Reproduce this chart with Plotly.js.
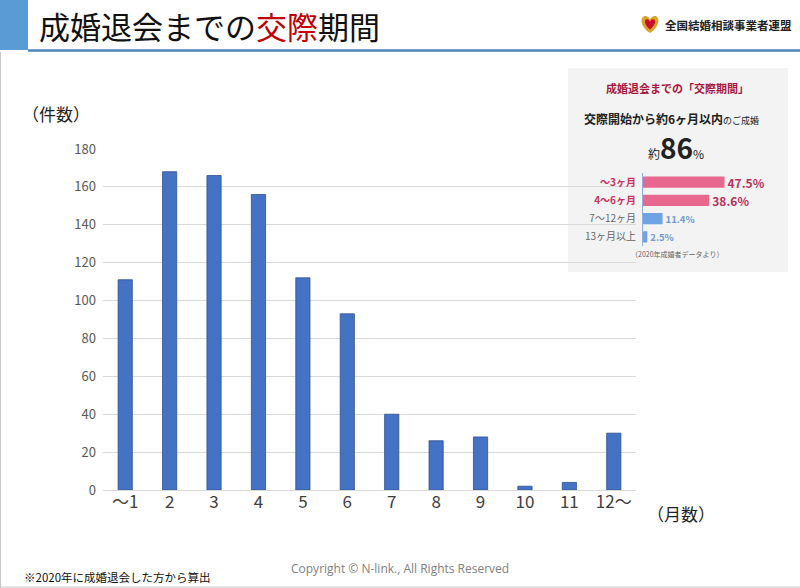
<!DOCTYPE html>
<html><head><meta charset="utf-8">
<script src="https://cdn.plot.ly/plotly-3.0.1.min.js"></script>
<style>html,body{margin:0;padding:0;background:#fff}#c{width:800px;height:588px}</style>
</head><body><div id="c"></div>
<script>
// ---- data ----
const months = ['〜1','2','3','4','5','6','7','8','9','10','11','12〜'];
const counts = [111,168,166,156,112,93,40,26,28,2,4,30];
const yTicks = [0,20,40,60,80,100,120,140,160,180];

const periodLabels = ['〜3ヶ月','4〜6ヶ月','7〜12ヶ月','13ヶ月以上'];
const periodShares = [47.5,38.6,11.4,2.5];

// ---- pixel -> paper helpers (layout only) ----
const L=103, T=60, PW=687, PH=430;
const X = x => (x-L)/PW;
const Y = y => (T+PH-y)/PH;
const P = pts => pts.map(s => typeof s==='string'? s : (X(s[0]).toFixed(5)+','+Y(s[1]).toFixed(5))).join(' ');

const font = '"Noto Sans CJK JP","Noto Sans",sans-serif';
const labelColors = ['#c8325f','#c8325f','#666','#666'];
const valColors = ['#b8305c','#b8305c','#6f9bd6','#6f9bd6'];
const barColors = ['#e8678f','#e8678f','#6fa3e6','#6fa3e6'];

const traces = [
  {type:'bar', x:months, y:counts, xaxis:'x', yaxis:'y', width:0.32,
   marker:{color:'#4472c4', line:{color:'#2f528f', width:0.8}}, hoverinfo:'x+y'},
  {type:'bar', orientation:'h', x:periodShares, y:periodLabels, xaxis:'x2', yaxis:'y2', width:0.62,
   marker:{color:barColors}, texttemplate:'<b>%{x}%</b>', textposition:'outside', constraintext:'none',
   textfont:{color:valColors, size:[12,12,9.5,9.5], family:font}, cliponaxis:false}
];

const heart = 'M '+P([[650,33],'C',[639,26],[640,15],[646,16],'C',[648.5,16.5],[650,18.5],[650,20],'C',[650,18.5],[651.5,16.5],[654,16],'C',[660,15],[661,26],[650,33]])+' Z';
const heartIn = 'M '+P([[650,29.5],'C',[643.5,24.5],[644,19],[647,19.3],'C',[649,19.5],[650,21],[650,22.5],'C',[650,21],[651,19.5],[653,19.3],'C',[656,19],[656.5,24.5],[650,29.5]])+' Z';

const layout = {
  width:800, height:588, paper_bgcolor:'#fff', plot_bgcolor:'rgba(0,0,0,0)',
  margin:{l:L, r:800-L-PW, t:T, b:588-T-PH}, showlegend:false,
  font:{family:font, color:'#333'},
  xaxis:{domain:[0, X(636)], type:'category', tickfont:{size:17, color:'#404040'},
    showgrid:false, showline:false, ticks:'', fixedrange:true},
  yaxis:{domain:[0, Y(149)], range:[0,180], tickvals:yTicks, tickfont:{size:13, color:'#595959'},
    gridcolor:'#d9d9d9', gridwidth:1, zeroline:true, zerolinecolor:'#d9d9d9', zerolinewidth:1,
    showline:false, ticks:'', ticklabelstandoff:6, fixedrange:true},
  xaxis2:{domain:[X(643), X(770)], range:[0,74], anchor:'y2', visible:false},
  yaxis2:{domain:[Y(246), Y(173)], anchor:'x2', type:'category', autorange:'reversed',
    tickvals:periodLabels,
    ticktext:periodLabels.map((s,i)=> i<2 ? '<b><span style="color:'+labelColors[i]+'">'+s+'</span></b>' : '<span style="color:'+labelColors[i]+'">'+s+'</span>'),
    tickfont:{size:10, color:'#666'}, showline:true, linecolor:'#8fb0e0', linewidth:1,
    showgrid:false, zeroline:false, ticks:'', ticklabelstandoff:4},
  shapes:[
    {type:'rect', xref:'paper', yref:'paper', x0:X(568), x1:X(788), y0:Y(272), y1:Y(68), fillcolor:'#f3f3f3', line:{width:0}, layer:'below'},
    {type:'rect', xref:'paper', yref:'paper', x0:X(0), x1:X(28), y0:Y(50), y1:Y(0), fillcolor:'#5b9bd5', line:{width:0}},
    {type:'line', xref:'paper', yref:'paper', x0:X(28), x1:X(800), y0:Y(50.5), y1:Y(50.5), line:{color:'#4f84bf', width:2.5}},
    {type:'line', xref:'paper', yref:'paper', x0:X(0.5), x1:X(0.5), y0:Y(52), y1:Y(588), line:{color:'#c9c9c9', width:1}},
    {type:'line', xref:'paper', yref:'paper', x0:X(0), x1:X(800), y0:Y(587), y1:Y(587), line:{color:'#c9c9c9', width:1}},
    {type:'path', xref:'paper', yref:'paper', path:heart, fillcolor:'#d8a52a', line:{width:0}},
    {type:'path', xref:'paper', yref:'paper', path:heartIn, fillcolor:'#c8102e', line:{width:0}}
  ],
  annotations:[
    {xref:'paper', yref:'paper', x:X(37), y:Y(25), xanchor:'left', yanchor:'middle', showarrow:false,
     text:'成婚退会までの<span style="color:#c00000">交際</span>期間', font:{size:31, color:'#111'}},
    {xref:'paper', yref:'paper', x:X(663), y:Y(25), xanchor:'left', yanchor:'middle', showarrow:false,
     text:'<b>全国結婚相談事業者連盟</b>', font:{size:11.5, color:'#222'}},
    {xref:'paper', yref:'paper', x:X(20), y:Y(113), xanchor:'left', yanchor:'middle', showarrow:false,
     text:'（件数）', font:{size:17, color:'#222'}},
    {xref:'paper', yref:'paper', x:X(645), y:Y(513), xanchor:'left', yanchor:'middle', showarrow:false,
     text:'（月数）', font:{size:17, color:'#222'}},
    {xref:'paper', yref:'paper', x:X(22), y:Y(577), xanchor:'left', yanchor:'middle', showarrow:false,
     text:'※2020年に成婚退会した方から算出', font:{size:11.5, color:'#111'}},
    {xref:'paper', yref:'paper', x:X(400), y:Y(568), xanchor:'center', yanchor:'middle', showarrow:false,
     text:'Copyright © N-link., All Rights Reserved', font:{size:12, color:'#808080', family:'"Open Sans",sans-serif'}},
    {xref:'paper', yref:'paper', x:X(677), y:Y(88), xanchor:'center', yanchor:'middle', showarrow:false,
     text:'<b>成婚退会までの「交際期間」</b>', font:{size:11, color:'#a8193f'}},
    {xref:'paper', yref:'paper', x:X(671), y:Y(118), xanchor:'center', yanchor:'middle', showarrow:false,
     text:'<b>交際開始から約6ヶ月以内</b><span style="font-size:9px">のご成婚</span>', font:{size:12, color:'#222'}},
    {xref:'paper', yref:'paper', x:X(676), y:Y(147), xanchor:'center', yanchor:'middle', showarrow:false,
     text:'<span style="font-size:12px">約</span><b>86</b><span style="font-size:12px">%</span>', font:{size:28, color:'#222'}},
    {xref:'paper', yref:'paper', x:X(677), y:Y(254), xanchor:'center', yanchor:'middle', showarrow:false,
     text:'（2020年成婚者データより）', font:{size:7, color:'#666'}}
  ]
};
Plotly.newPlot('c', traces, layout, {displayModeBar:false, staticPlot:true});
</script></body></html>
